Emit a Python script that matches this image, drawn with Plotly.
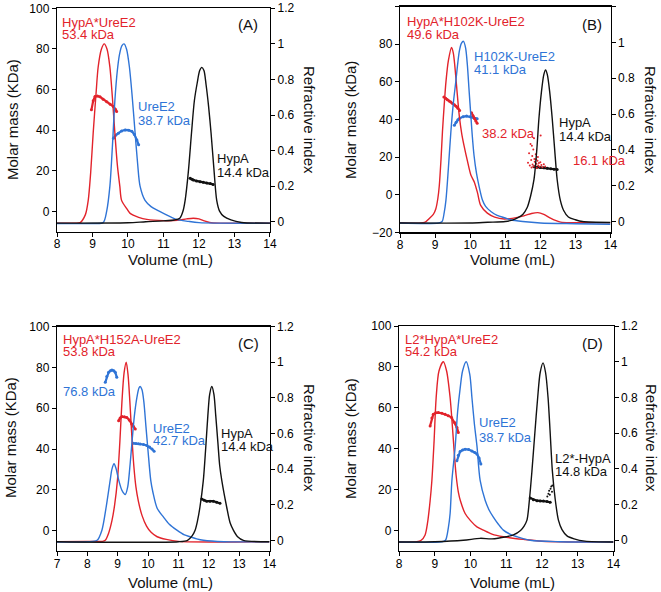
import plotly.graph_objects as go

W, H = 661, 592
RED = "#e2232b"
BLUE = "#2f74d6"
BLACK = "#111111"
FONT = "Liberation Sans, Arial, Helvetica, sans-serif"

# ---------------- Panel A ----------------
A_red_vol = [8.0, 8.5, 8.65, 8.8, 8.88, 8.95, 9.02, 9.1, 9.16, 9.25, 9.33, 9.41, 9.49, 9.56, 9.63, 9.7, 9.77, 9.82, 9.96, 10.06, 10.3, 10.53, 11.0, 11.4, 11.65, 11.84, 12.0, 12.15, 12.3, 12.6, 14.0]
A_red_ri = [-0.008, -0.008, -0.005, 0.04, 0.12, 0.28, 0.5, 0.72, 0.87, 0.97, 1.0, 0.97, 0.87, 0.7, 0.5, 0.32, 0.2, 0.12, 0.075, 0.047, 0.025, 0.013, 0.006, 0.008, 0.016, 0.02, 0.016, 0.005, -0.004, -0.008, -0.008]
A_blue_vol = [8.0, 9.0, 9.3, 9.4, 9.49, 9.56, 9.63, 9.7, 9.76, 9.83, 9.89, 9.96, 10.04, 10.12, 10.2, 10.27, 10.34, 10.48, 10.65, 10.82, 11.0, 11.37, 11.7, 12.0, 14.0]
A_blue_ri = [-0.01, -0.01, -0.005, 0.06, 0.2, 0.42, 0.68, 0.85, 0.94, 0.99, 1.0, 0.97, 0.87, 0.7, 0.5, 0.33, 0.2, 0.12, 0.085, 0.065, 0.047, 0.013, 0.002, -0.005, -0.008]
A_black_vol = [8.0, 10.0, 10.5, 11.0, 11.3, 11.46, 11.55, 11.61, 11.7, 11.79, 11.87, 11.95, 12.02, 12.08, 12.14, 12.2, 12.27, 12.34, 12.42, 12.5, 12.58, 12.7, 12.9, 13.2, 14.0]
A_black_ri = [-0.008, -0.006, 0.0, 0.005, 0.01, 0.02, 0.06, 0.12, 0.28, 0.5, 0.68, 0.78, 0.85, 0.868, 0.85, 0.77, 0.65, 0.5, 0.3, 0.12, 0.06, 0.03, 0.01, -0.004, -0.008]
A_red_mm_vol = [8.97, 9.02, 9.07, 9.14, 9.21, 9.3, 9.4, 9.5, 9.59, 9.65, 9.68]
A_red_mm = [50.0, 54.5, 56.6, 56.8, 56.4, 55.2, 54.0, 52.8, 51.6, 50.2, 49.2]
A_blue_mm_vol = [9.59, 9.66, 9.73, 9.82, 9.92, 10.02, 10.11, 10.18, 10.25, 10.3]
A_blue_mm = [36.0, 37.6, 38.5, 39.6, 40.1, 40.0, 39.4, 37.8, 35.2, 32.8]
A_black_mm_vol = [11.75, 11.8, 11.84, 11.93, 12.03, 12.12, 12.22, 12.32, 12.4]
A_black_mm = [16.3, 15.8, 15.5, 15.0, 14.6, 14.3, 14.0, 13.7, 13.3]

# ---------------- Panel B ----------------
B_red_vol = [8.0, 8.7, 8.85, 8.95, 9.02, 9.08, 9.12, 9.17, 9.21, 9.26, 9.31, 9.38, 9.47, 9.52, 9.56, 9.62, 9.69, 9.76, 9.83, 9.92, 10.02, 10.12, 10.21, 10.3, 10.49, 10.7, 10.97, 11.2, 11.53, 11.75, 11.93, 12.1, 12.29, 12.45, 12.58, 14.0]
B_red_ri = [-0.006, -0.005, 0.02, 0.04, 0.07, 0.13, 0.2, 0.35, 0.5, 0.65, 0.78, 0.9, 0.972, 0.94, 0.875, 0.74, 0.59, 0.49, 0.42, 0.34, 0.26, 0.22, 0.16, 0.09, 0.047, 0.025, 0.014, 0.018, 0.032, 0.045, 0.05, 0.04, 0.019, 0.005, -0.003, -0.006]
B_blue_vol = [8.0, 9.1, 9.2, 9.26, 9.31, 9.38, 9.45, 9.52, 9.59, 9.69, 9.75, 9.81, 9.87, 9.92, 9.97, 10.02, 10.06, 10.11, 10.18, 10.25, 10.35, 10.44, 10.6, 10.77, 11.0, 11.15, 11.5, 12.0, 13.0, 14.0]
B_blue_ri = [-0.008, -0.008, 0.0, 0.05, 0.12, 0.3, 0.5, 0.66, 0.78, 0.95, 0.995, 1.006, 0.97, 0.875, 0.73, 0.59, 0.48, 0.37, 0.27, 0.2, 0.12, 0.085, 0.055, 0.035, 0.02, 0.01, 0.0, -0.008, -0.012, -0.015]
B_black_vol = [8.0, 10.0, 10.5, 11.0, 11.2, 11.35, 11.5, 11.63, 11.72, 11.82, 11.9, 11.96, 12.03, 12.1, 12.15, 12.2, 12.27, 12.34, 12.41, 12.48, 12.57, 12.67, 12.8, 13.0, 13.2, 14.0]
B_black_ri = [-0.008, -0.008, -0.004, 0.0, 0.008, 0.02, 0.04, 0.08, 0.14, 0.235, 0.4, 0.574, 0.72, 0.82, 0.846, 0.82, 0.72, 0.574, 0.4, 0.235, 0.12, 0.06, 0.025, 0.01, 0.0, -0.005]
B_red_mm_vol = [9.25, 9.3, 9.35, 9.4, 9.45, 9.5, 9.55, 9.6, 9.65, 9.7]
B_red_mm = [52.0, 51.3, 50.5, 49.8, 49.3, 48.5, 47.8, 47.0, 46.0, 44.8]
B_blue_mm_vol = [9.55, 9.6, 9.65, 9.7, 9.8, 9.9, 10.0, 10.1, 10.2]
B_blue_mm = [36.9, 38.5, 39.8, 40.6, 41.5, 41.8, 41.4, 41.0, 40.4]
B_red2_mm_vol = [10.04, 10.08, 10.12, 10.16, 10.2]
B_red2_mm = [43.5, 42.0, 40.5, 39.2, 38.0]
B_red_dots_vol = [11.65, 11.68, 11.7, 11.72, 11.74, 11.75, 11.77, 11.78, 11.8, 11.81, 11.83, 11.84, 11.86, 11.87, 11.89, 11.9, 11.92, 11.94, 11.96, 11.98, 12.0, 12.03, 12.06, 12.1, 12.14, 11.76, 11.82, 11.88, 11.93, 12.01]
B_red_dots_mm = [17.0, 22.0, 15.5, 27.0, 18.5, 14.5, 20.5, 16.0, 24.0, 15.0, 19.0, 17.5, 15.0, 21.5, 16.5, 14.2, 18.0, 15.5, 16.8, 14.8, 17.2, 15.8, 14.6, 16.2, 15.0, 26.0, 30.0, 18.8, 20.0, 31.5]
B_black_mm_vol = [11.82, 11.9, 12.0, 12.1, 12.2, 12.3, 12.39, 12.48]
B_black_mm = [14.8, 14.6, 14.4, 14.3, 14.1, 13.8, 13.5, 13.4]

# ---------------- Panel C ----------------
C_red_vol = [7.0, 8.0, 8.5, 8.59, 8.7, 8.81, 8.9, 8.99, 9.07, 9.14, 9.21, 9.28, 9.34, 9.4, 9.46, 9.53, 9.6, 9.68, 9.8, 9.95, 10.1, 10.3, 10.6, 11.0, 14.0]
C_red_ri = [-0.008, -0.006, -0.006, 0.0, 0.04, 0.11, 0.2, 0.335, 0.55, 0.78, 0.94, 1.0, 0.93, 0.78, 0.6, 0.42, 0.3, 0.22, 0.14, 0.08, 0.045, 0.02, 0.005, -0.006, -0.008]
C_blue_vol = [7.0, 8.0, 8.32, 8.48, 8.62, 8.75, 8.81, 8.88, 8.95, 9.03, 9.14, 9.25, 9.33, 9.41, 9.48, 9.55, 9.63, 9.7, 9.74, 9.8, 9.86, 9.93, 10.0, 10.09, 10.16, 10.3, 10.51, 10.7, 10.95, 11.2, 11.38, 11.6, 11.82, 12.5, 14.0]
C_blue_ri = [-0.01, -0.008, 0.0, 0.057, 0.187, 0.335, 0.4, 0.43, 0.4, 0.34, 0.28, 0.257, 0.3, 0.43, 0.57, 0.7, 0.8, 0.855, 0.864, 0.845, 0.78, 0.64, 0.5, 0.335, 0.27, 0.18, 0.13, 0.09, 0.057, 0.03, 0.02, 0.008, 0.0, -0.008, -0.008]
C_black_vol = [7.0, 11.0, 11.3, 11.45, 11.55, 11.63, 11.71, 11.82, 11.9, 11.97, 12.03, 12.1, 12.17, 12.23, 12.3, 12.36, 12.43, 12.59, 12.7, 12.81, 12.95, 13.14, 14.0]
C_black_ri = [-0.008, -0.008, 0.0, 0.025, 0.057, 0.11, 0.187, 0.335, 0.52, 0.7, 0.82, 0.864, 0.82, 0.7, 0.55, 0.42, 0.335, 0.187, 0.1, 0.057, 0.02, 0.0, -0.008]
C_blue76_mm_vol = [8.59, 8.64, 8.7, 8.76, 8.81, 8.87, 8.92, 8.97]
C_blue76_mm = [72.7, 75.5, 77.6, 78.4, 78.7, 78.4, 77.6, 75.2]
C_red_mm_vol = [9.03, 9.08, 9.14, 9.22, 9.3, 9.38, 9.46, 9.52, 9.58]
C_red_mm = [53.9, 55.2, 55.9, 55.8, 55.4, 54.2, 52.3, 51.0, 49.8]
C_blue_mm_vol = [9.52, 9.6, 9.68, 9.74, 9.85, 9.96, 10.05, 10.13, 10.2]
C_blue_mm = [42.8, 42.7, 42.6, 42.5, 42.2, 41.7, 41.0, 40.0, 38.9]
C_black_mm_vol = [11.77, 11.85, 11.93, 12.04, 12.15, 12.26, 12.37]
C_black_mm = [15.5, 14.9, 14.4, 14.4, 14.4, 13.9, 13.4]

# ---------------- Panel D ----------------
D_red_vol = [8.0, 8.5, 8.62, 8.73, 8.8, 8.87, 8.92, 8.98, 9.04, 9.12, 9.24, 9.33, 9.43, 9.5, 9.55, 9.6, 9.66, 9.72, 9.85, 10.0, 10.18, 10.36, 10.6, 10.92, 11.48, 12.0, 14.0]
D_red_ri = [-0.01, -0.008, 0.0, 0.03, 0.1, 0.22, 0.335, 0.55, 0.8, 0.95, 1.0, 0.95, 0.8, 0.62, 0.48, 0.36, 0.27, 0.22, 0.15, 0.11, 0.075, 0.057, 0.035, 0.02, 0.005, -0.005, -0.01]
D_blue_vol = [8.0, 9.2, 9.3, 9.38, 9.43, 9.48, 9.57, 9.64, 9.71, 9.78, 9.88, 9.98, 10.04, 10.11, 10.18, 10.27, 10.41, 10.52, 10.64, 10.78, 10.92, 11.1, 11.3, 11.67, 12.5, 14.0]
D_blue_ri = [-0.01, -0.008, 0.0, 0.07, 0.15, 0.335, 0.52, 0.72, 0.85, 0.95, 1.0, 0.93, 0.8, 0.65, 0.53, 0.335, 0.224, 0.17, 0.13, 0.09, 0.057, 0.035, 0.02, 0.0, -0.008, -0.01]
D_black_vol = [8.0, 9.0, 9.8, 10.27, 10.6, 11.0, 11.2, 11.4, 11.5, 11.58, 11.65, 11.72, 11.8, 11.88, 11.95, 12.03, 12.1, 12.17, 12.23, 12.29, 12.37, 12.46, 12.56, 12.7, 12.9, 13.2, 14.0]
D_black_ri = [-0.01, -0.008, 0.0, 0.011, 0.008, 0.02, 0.03, 0.055, 0.08, 0.113, 0.23, 0.39, 0.6, 0.8, 0.94, 0.994, 0.94, 0.8, 0.6, 0.39, 0.23, 0.113, 0.06, 0.025, 0.008, -0.005, -0.01]
D_red_mm_vol = [8.87, 8.92, 8.96, 9.03, 9.1, 9.2, 9.29, 9.38, 9.47, 9.55, 9.62, 9.66]
D_red_mm = [51.2, 55.0, 56.9, 57.6, 57.7, 57.4, 56.9, 56.2, 55.3, 53.0, 50.4, 48.0]
D_blue_mm_vol = [9.62, 9.66, 9.71, 9.78, 9.85, 9.95, 10.04, 10.12, 10.18, 10.24, 10.29]
D_blue_mm = [34.1, 36.8, 38.7, 39.4, 39.8, 39.6, 38.9, 38.2, 37.4, 35.5, 32.5]
D_black_mm_vol = [11.67, 11.76, 11.86, 11.95, 12.04, 12.14, 12.23]
D_black_mm = [15.9, 15.1, 14.6, 14.5, 14.4, 14.2, 13.8]
D_black_dots_vol = [12.15, 12.18, 12.2, 12.22, 12.24, 12.26, 12.28, 12.29]
D_black_dots_mm = [16.7, 18.0, 19.5, 17.5, 20.5, 21.6, 19.0, 22.0]

# ---------------- Tick labels ----------------
mm_ticks = [-20, 0, 20, 40, 60, 80, 100]
ri_ticks = [0, 0.2, 0.4, 0.6, 0.8, 1, 1.2]
ri_tick_text = ["0", "0.2", "0.4", "0.6", "0.8", "1", "1.2"]

# panel frames in pixels: left, right, top, bottom; ranges
panels = [
    dict(frame=(57, 270, 8.2, 231.7), xr=[8, 14], ylr=[-10, 100], yrr=[-0.056, 1.2],
         ri=[(A_red_vol, A_red_ri, RED), (A_blue_vol, A_blue_ri, BLUE), (A_black_vol, A_black_ri, BLACK)],
         mm=[(A_red_mm_vol, A_red_mm, RED), (A_blue_mm_vol, A_blue_mm, BLUE), (A_black_mm_vol, A_black_mm, BLACK)],
         dots=[]),
    dict(frame=(400, 610.5, 6.5, 232.3), xr=[8, 14], ylr=[-20, 100], yrr=[-0.06, 1.2],
         ri=[(B_red_vol, B_red_ri, RED), (B_blue_vol, B_blue_ri, BLUE), (B_black_vol, B_black_ri, BLACK)],
         mm=[(B_red_mm_vol, B_red_mm, RED), (B_blue_mm_vol, B_blue_mm, BLUE), (B_red2_mm_vol, B_red2_mm, RED),
             (B_black_mm_vol, B_black_mm, BLACK)],
         dots=[(B_red_dots_vol, B_red_dots_mm, RED)]),
    dict(frame=(57, 269.5, 326.5, 551), xr=[7, 14], ylr=[-10, 100], yrr=[-0.06, 1.2],
         ri=[(C_red_vol, C_red_ri, RED), (C_blue_vol, C_blue_ri, BLUE), (C_black_vol, C_black_ri, BLACK)],
         mm=[(C_blue76_mm_vol, C_blue76_mm, BLUE), (C_red_mm_vol, C_red_mm, RED), (C_blue_mm_vol, C_blue_mm, BLUE),
             (C_black_mm_vol, C_black_mm, BLACK)],
         dots=[]),
    dict(frame=(399, 613.5, 326, 551), xr=[8, 14], ylr=[-10, 100], yrr=[-0.06, 1.2],
         ri=[(D_red_vol, D_red_ri, RED), (D_blue_vol, D_blue_ri, BLUE), (D_black_vol, D_black_ri, BLACK)],
         mm=[(D_red_mm_vol, D_red_mm, RED), (D_blue_mm_vol, D_blue_mm, BLUE), (D_black_mm_vol, D_black_mm, BLACK)],
         dots=[(D_black_dots_vol, D_black_dots_mm, BLACK)]),
]

fig = go.Figure()
layout = dict(
    width=W, height=H, margin=dict(l=0, r=0, t=0, b=0, pad=0, autoexpand=False),
    paper_bgcolor="white", plot_bgcolor="white", showlegend=False,
    font=dict(family=FONT, size=12, color="black"),
)

axis_common = dict(showgrid=False, zeroline=False, showline=True, linecolor="black", linewidth=1.2,
                   ticks="outside", ticklen=4, tickwidth=1, tickcolor="black", automargin=False,
                   tickfont=dict(family=FONT, size=12, color="black"))

for i, p in enumerate(panels):
    L, R, T, B = p["frame"]
    xd = [L / W, R / W]
    yd = [1 - B / H, 1 - T / H]
    xn = "x" if i == 0 else f"x{i+1}"
    yl = "y" if i == 0 else f"y{2*i+1}"
    yr = f"y{2*i+2}"
    xkey = "xaxis" if i == 0 else f"xaxis{i+1}"
    ylkey = "yaxis" if i == 0 else f"yaxis{2*i+1}"
    yrkey = f"yaxis{2*i+2}"
    layout[xkey] = dict(axis_common, domain=xd, anchor=yl, range=[p["xr"][0], p["xr"][1] + 0.001],
                        dtick=1, tick0=0, mirror=True, ticklabelstandoff=-3)
    layout[ylkey] = dict(axis_common, domain=yd, anchor=xn, range=[p["ylr"][0], p["ylr"][1] + 0.05],
                         tickvals=[t for t in mm_ticks if t >= p["ylr"][0]], side="left")
    layout[yrkey] = dict(axis_common, domain=yd, anchor=xn, overlaying=yl, side="right",
                         range=p["yrr"][:1] + [p["yrr"][1] + 0.0005], tickvals=ri_ticks, ticktext=ri_tick_text)
    for vx, vy, c in p["ri"]:
        fig.add_trace(go.Scatter(x=vx, y=vy, xaxis=xn, yaxis=yr, mode="lines",
                                 line=dict(color=c, width=1.4, shape="spline", smoothing=0.8),
                                 hoverinfo="skip"))
    for vx, vy, c in p["mm"]:
        fig.add_trace(go.Scatter(x=vx, y=vy, xaxis=xn, yaxis=yl, mode="lines+markers",
                                 line=dict(color=c, width=2.2),
                                 marker=dict(color=c, size=3), hoverinfo="skip"))
    for vx, vy, c in p["dots"]:
        fig.add_trace(go.Scatter(x=vx, y=vy, xaxis=xn, yaxis=yl, mode="markers",
                                 marker=dict(color=c, size=2), hoverinfo="skip"))

annotations = []


def txt(s, px, py, color=BLACK, size=13, anchor="left", angle=0):
    annotations.append(dict(text=s, x=px / W, y=1 - py / H, xref="paper", yref="paper",
                            xanchor=anchor, yanchor="middle", showarrow=False, textangle=angle,
                            font=dict(family=FONT, size=size, color=color)))


# Panel A labels
txt("HypA*UreE2", 60, 22, RED)
txt("53.4 kDa", 60, 34.5, RED)
txt("UreE2", 136, 107, BLUE)
txt("38.7 kDa", 136, 120, BLUE)
txt("HypA", 215, 158)
txt("14.4 kDa", 215, 172)
txt("(A)", 248, 25, size=15, anchor="center")
# Panel B labels
txt("HypA*H102K-UreE2", 405, 21, RED)
txt("49.6 kDa", 405, 34, RED)
txt("H102K-UreE2", 472, 57, BLUE)
txt("41.1 kDa", 472, 69, BLUE)
txt("38.2 kDa", 480, 133, RED)
txt("HypA", 557, 122)
txt("14.4 kDa", 557, 137)
txt("16.1 kDa", 571, 160, RED)
txt("(B)", 592, 25, size=15, anchor="center")
# Panel C labels
txt("HypA*H152A-UreE2", 61, 339, RED)
txt("53.8 kDa", 61, 351, RED)
txt("76.8 kDa", 61, 391, BLUE)
txt("UreE2", 151, 428, BLUE)
txt("42.7 kDa", 151, 440, BLUE)
txt("HypA", 219, 433)
txt("14.4 kDa", 219, 446)
txt("(C)", 248, 344, size=15, anchor="center")
# Panel D labels
txt("L2*HypA*UreE2", 403, 339, RED)
txt("54.2 kDa", 403, 351, RED)
txt("UreE2", 477, 423, BLUE)
txt("38.7 kDa", 477, 437, BLUE)
txt("L2*-HypA", 553, 458)
txt("14.8 kDa", 553, 471)
txt("(D)", 592, 344, size=15, anchor="center")

# Axis titles
for (lx, rx, cy, vx, vy, mlabel) in [(12, 310, 120, 170, 259, "Molar mass (KDa)"),
                                     (350, 651, 120, 512, 259, "Molar mass (kDa)"),
                                     (10, 310, 438, 170, 582, "Molar mass (KDa)"),
                                     (350, 652, 438, 512, 582, "Molar mass (KDa)")]:
    txt(mlabel, lx, cy, size=15, anchor="center", angle=-90)
    txt("Refractive index", rx, cy, size=15, anchor="center", angle=90)
    txt("Volume (mL)", vx, vy, size=15, anchor="center")

layout["annotations"] = annotations
fig.update_layout(**layout)
fig.write_html("out.html", config={"displayModeBar": False, "staticPlot": True},
               post_script="document.body.style.margin='0';document.body.style.padding='0';")
